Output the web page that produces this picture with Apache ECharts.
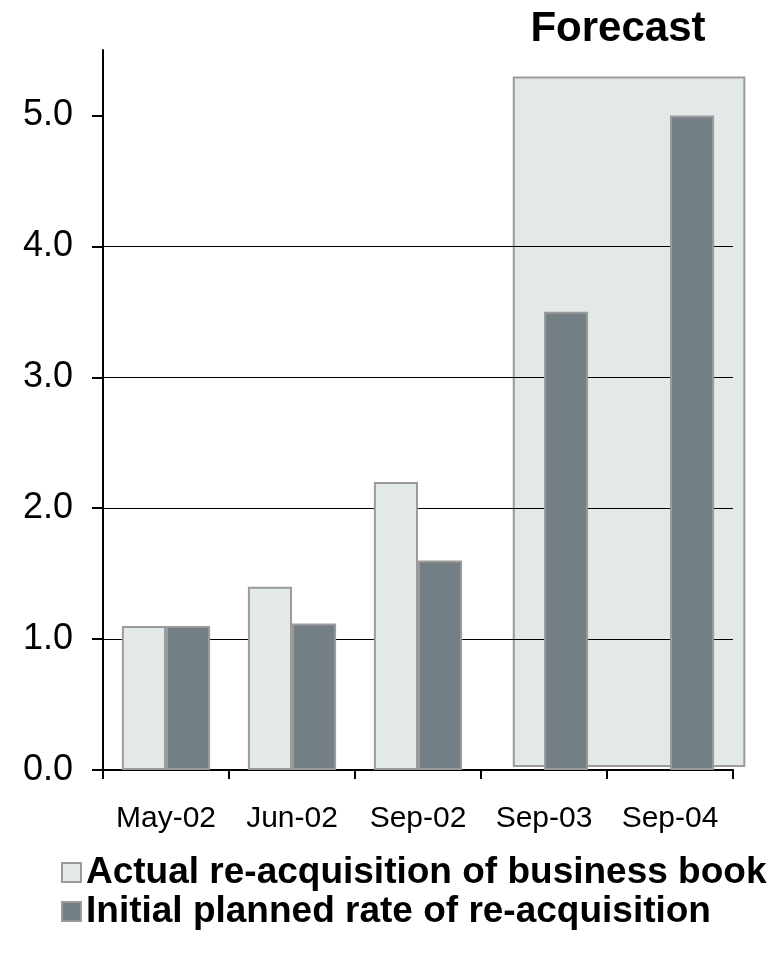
<!DOCTYPE html>
<html>
<head>
<meta charset="utf-8">
<script src="https://cdn.jsdelivr.net/npm/echarts@6/dist/echarts.min.js"></script>
<style>
  html, body { margin: 0; padding: 0; background: #ffffff; }
  #chart { width: 778px; height: 969px; }
</style>
</head>
<body>
<div id="chart"></div>
<script>
// Periods on the horizontal axis
const categories = ['May-02', 'Jun-02', 'Sep-02', 'Sep-03', 'Sep-04'];
// Actual re-acquisition (no actuals yet for the forecast periods)
const actualValues = [1.1, 1.4, 2.2, null, null];
// Initial planned rate
const plannedValues = [1.1, 1.12, 1.6, 3.5, 5.0];
// Y tick values
const yTicks = [0, 1, 2, 3, 4, 5];
// Forecast region in data units: [xStart, xEnd, yBottom, yTop] (x in category slots)
const forecastSpan = [[3.26, 5.09, 0.03, 5.29]];

const FONT = "'Liberation Sans', Arial, Helvetica, sans-serif";
const LIGHT = '#e3e8e8';
const DARK = '#737f84';
const EDGE = '#9b9b9b';

const chart = echarts.init(document.getElementById('chart'), null, { renderer: 'canvas' });

chart.setOption({
  animation: false,
  backgroundColor: '#ffffff',
  title: {
    text: 'Forecast',
    left: 613,
    top: 3,
    textAlign: 'center',
    textStyle: { fontFamily: FONT, fontSize: 42, fontWeight: 'bold', color: '#000' }
  },
  legend: {
    orient: 'vertical',
    left: 56,
    top: 849,
    itemGap: 2,
    itemWidth: 19,
    itemHeight: 19,
    icon: 'rect',
    textStyle: { fontFamily: FONT, fontSize: 37, fontWeight: 'bold', color: '#000' },
    data: ['Actual re-acquisition of business book', 'Initial planned rate of re-acquisition']
  },
  grid: { left: 103, right: 45, top: 50, bottom: 199, containLabel: false },
  xAxis: [
    {
      type: 'category',
      data: categories,
      axisLine: { lineStyle: { color: '#000', width: 2 } },
      axisTick: { show: true, length: 9, lineStyle: { color: '#000', width: 2 } },
      axisLabel: { fontFamily: FONT, fontSize: 30, color: '#000', margin: 34, interval: 0 }
    },
    {
      type: 'value',
      min: 0,
      max: 5,
      show: false
    }
  ],
  yAxis: {
    type: 'value',
    min: 0,
    max: 5.5,
    interval: 1,
    axisLine: { show: true, lineStyle: { color: '#000', width: 2 } },
    axisTick: { show: true, length: 11, lineStyle: { color: '#000', width: 2 }, customValues: yTicks },
    axisLabel: {
      fontFamily: FONT, fontSize: 36, color: '#000', margin: 30,
      customValues: yTicks,
      formatter: v => v.toFixed(1)
    },
    splitLine: { show: true, showMaxLine: false, showMinLine: false, lineStyle: { color: '#000', width: 1 } }
  },
  series: [
    {
      type: 'custom',
      xAxisIndex: 1,
      z: -1,
      silent: true,
      data: forecastSpan,
      renderItem: function (params, api) {
        const p0 = api.coord([api.value(0), api.value(3)]);
        const p1 = api.coord([api.value(1), api.value(2)]);
        return {
          type: 'rect',
          shape: { x: p0[0], y: p0[1], width: p1[0] - p0[0], height: p1[1] - p0[1] },
          style: { fill: LIGHT, stroke: EDGE, lineWidth: 2 }
        };
      }
    },
    {
      name: 'Actual re-acquisition of business book',
      type: 'bar',
      data: actualValues,
      barGap: '0%',
      barCategoryGap: '30%',
      itemStyle: { color: LIGHT, borderColor: EDGE, borderWidth: 2 }
    },
    {
      name: 'Initial planned rate of re-acquisition',
      type: 'bar',
      data: plannedValues,
      barGap: '0%',
      barCategoryGap: '30%',
      itemStyle: { color: DARK, borderColor: EDGE, borderWidth: 2 }
    }
  ]
});
</script>
</body>
</html>
